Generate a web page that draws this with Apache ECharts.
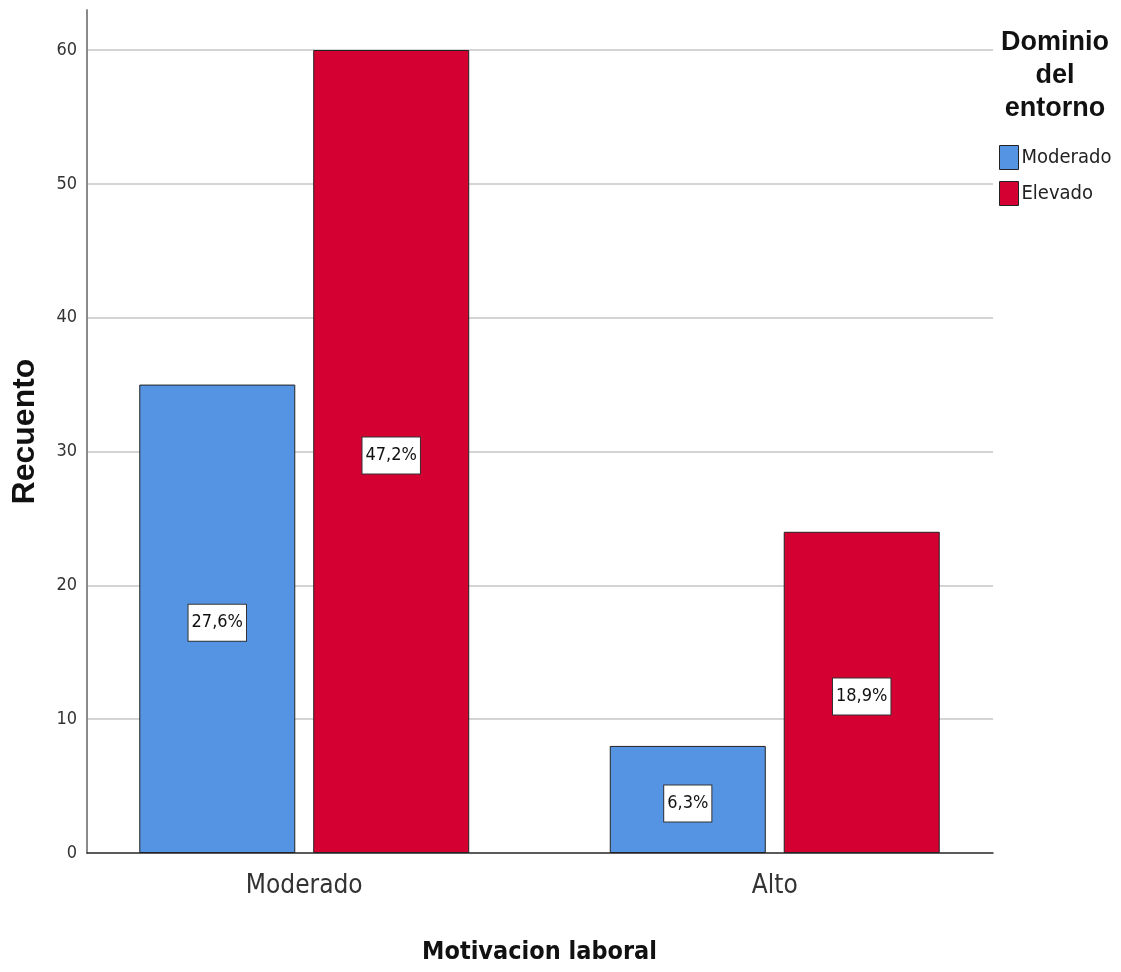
<!DOCTYPE html>
<html>
<head>
<meta charset="utf-8">
<script src="https://cdn.jsdelivr.net/npm/echarts@6/dist/echarts.min.js"></script>
<style>
html,body{margin:0;padding:0;background:#fff;}
#chart{width:1121px;height:972px;}
</style>
</head>
<body>
<div id="chart"></div>
<script>
const categories = ['Moderado', 'Alto'];
const seriesNames = ['Moderado', 'Elevado'];
const moderadoValues = [35, 8];
const elevadoValues = [60, 24];
const moderadoPct = ['27,6%', '6,3%'];
const elevadoPct = ['47,2%', '18,9%'];
const yMin = 0, yMax = 60, yInterval = 10, yAxisTop = 63;
const xTitle = 'Motivacion laboral';
const yTitle = 'Recuento';
const legendTitle = 'Dominio\ndel\nentorno';

const NARROW = "'DejaVu Sans Condensed', 'Liberation Sans Narrow', sans-serif";
const SANS = "'Liberation Sans', Arial, sans-serif";
const colors = ['#5594e3', '#d50032'];

function pctLabel(arr) {
  return {
    show: true,
    position: 'inside',
    offset: [0, 4],
    formatter: p => arr[p.dataIndex],
    fontFamily: NARROW,
    fontSize: 18,
    lineHeight: 20,
    color: '#111',
    backgroundColor: '#fff',
    borderColor: '#333',
    borderWidth: 1,
    padding: [8, 3, 8, 3]
  };
}

const chart = echarts.init(document.getElementById('chart'));
chart.setOption({
  backgroundColor: '#fff',
  animation: false,
  color: colors,
  grid: [
    { left: 87, right: 128, top: 50, bottom: 119 },
    { left: 69, right: 111, top: 50, bottom: 119 },
    { left: 87, right: 128, top: 10, bottom: 119 }
  ],
  xAxis: [
    { gridIndex: 0, type: 'category', data: categories,
      axisLine: { show: true, lineStyle: { color: '#333', width: 1.5 } },
      axisTick: { show: false }, axisLabel: { show: false }, splitLine: { show: false } },
    { gridIndex: 1, type: 'category', data: categories,
      axisLine: { show: false }, axisTick: { show: false },
      axisLabel: { fontFamily: NARROW, fontSize: 26, color: '#333', margin: 20 },
      name: xTitle, nameLocation: 'middle', nameGap: 87,
      nameTextStyle: { fontFamily: NARROW, fontWeight: 'bold', fontSize: 25, color: '#111' } },
    { gridIndex: 2, type: 'category', data: categories, show: false }
  ],
  yAxis: [
    { gridIndex: 0, type: 'value', min: yMin, max: yMax, interval: yInterval,
      axisLine: { show: false }, axisTick: { show: false },
      axisLabel: { fontFamily: NARROW, fontSize: 18, color: '#333', margin: 10 },
      splitLine: { show: true, lineStyle: { color: '#d4d4d4', width: 2 } } },
    { gridIndex: 1, type: 'value', min: yMin, max: yMax, interval: yInterval, show: false },
    { gridIndex: 2, type: 'value', min: yMin, max: yAxisTop,
      axisLine: { show: true, lineStyle: { color: '#8a8a8a', width: 2 } },
      axisTick: { show: false }, axisLabel: { show: false }, splitLine: { show: false },
      name: yTitle, nameLocation: 'middle', nameGap: 46, nameRotate: 90,
      nameTextStyle: { fontFamily: SANS, fontWeight: 'bold', fontSize: 32, color: '#111' } }
  ],
  legend: {
    orient: 'vertical',
    left: 999, top: 145, padding: 0,
    itemWidth: 19, itemHeight: 24, itemGap: 11,
    icon: 'rect',
    data: seriesNames,
    itemStyle: { borderColor: '#222', borderWidth: 1 },
    textStyle: { fontFamily: NARROW, fontSize: 20, color: '#222', padding: [0, 0, 0, -2] }
  },
  graphic: [{
    type: 'text', x: 1055, y: 26,
    style: { text: legendTitle, fontFamily: SANS, fontWeight: 'bold', fontSize: 27,
      lineHeight: 33, fill: '#111', align: 'center', textAlign: 'center' }
  }],
  series: [
    { name: seriesNames[0], type: 'bar', xAxisIndex: 1, yAxisIndex: 1,
      data: moderadoValues, barWidth: 156, barGap: '11.5%',
      itemStyle: { color: colors[0], borderColor: '#222', borderWidth: 1 },
      label: pctLabel(moderadoPct) },
    { name: seriesNames[1], type: 'bar', xAxisIndex: 1, yAxisIndex: 1,
      data: elevadoValues, barWidth: 156, barGap: '11.5%',
      itemStyle: { color: colors[1], borderColor: '#222', borderWidth: 1 },
      label: pctLabel(elevadoPct) }
  ]
});
</script>
</body>
</html>
